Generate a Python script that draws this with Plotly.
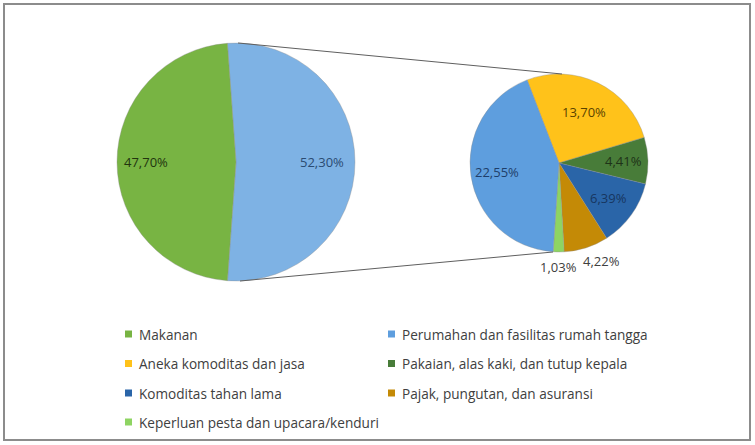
import math
import plotly.graph_objects as go

W, H = 755, 445

# ---- data ----
main_labels = ["Makanan", "Non Makanan"]
main_values = [47.70, 52.30]

sub_labels = [
    "Aneka komoditas dan jasa",
    "Pakaian, alas kaki, dan tutup kepala",
    "Komoditas tahan lama",
    "Pajak, pungutan, dan asuransi",
    "Keperluan pesta dan upacara/kenduri",
    "Perumahan dan fasilitas rumah tangga",
]
sub_values = [13.70, 4.41, 6.39, 4.22, 1.03, 22.55]

legend_labels = [
    "Makanan",
    "Perumahan dan fasilitas rumah tangga",
    "Aneka komoditas dan jasa",
    "Pakaian, alas kaki, dan tutup kepala",
    "Komoditas tahan lama",
    "Pajak, pungutan, dan asuransi",
    "Keperluan pesta dan upacara/kenduri",
]

# ---- styles ----
FONT = "Open Sans"
colors = {
    "Makanan": "#78B443",
    "Non Makanan": "#7EB2E4",
    "Perumahan dan fasilitas rumah tangga": "#5E9EDE",
    "Aneka komoditas dan jasa": "#FFC21A",
    "Pakaian, alas kaki, dan tutup kepala": "#487C39",
    "Komoditas tahan lama": "#2A65A8",
    "Pajak, pungutan, dan asuransi": "#C48A06",
    "Keperluan pesta dan upacara/kenduri": "#8ED462",
}
text_colors = {
    "Makanan": "#22340F",
    "Non Makanan": "#2B4B72",
    "Perumahan dan fasilitas rumah tangga": "#1E3E6A",
    "Aneka komoditas dan jasa": "#5A4300",
    "Pakaian, alas kaki, dan tutup kepala": "#1E3318",
    "Komoditas tahan lama": "#17365F",
    "Pajak, pungutan, dan asuransi": "#404040",
    "Keperluan pesta dan upacara/kenduri": "#404040",
}
# radial position of each value label (fraction of radius) and pixel nudge
label_radius = {
    "Makanan": 0.76,
    "Non Makanan": 0.72,
    "Perumahan dan fasilitas rumah tangga": 0.70,
    "Aneka komoditas dan jasa": 0.64,
    "Pakaian, alas kaki, dan tutup kepala": 0.73,
    "Komoditas tahan lama": 0.68,
    "Pajak, pungutan, dan asuransi": 1.16,
    "Keperluan pesta dan upacara/kenduri": 1.17,
}
label_xshift = {
    "Pajak, pungutan, dan asuransi": 11,
}


def pct(v):
    return f"{v:.2f}%".replace(".", ",")


def px_x(x):
    return x / W


def px_y(y):
    return 1 - y / H


# pie geometry (pixels)
LEFT = dict(cx=236, cy=162, r=119, rot=-4.15)
RIGHT = dict(cx=559, cy=163, r=89, rot=-21)

fig = go.Figure()
annotations = []
shapes = []


def add_pie(labels, values, geo):
    fig.add_trace(go.Pie(
        labels=labels,
        values=values,
        textinfo="none",
        marker=dict(colors=[colors[l] for l in labels],
                    line=dict(color="rgba(140,140,140,0.6)", width=0.6)),
        sort=False,
        direction="clockwise",
        rotation=geo["rot"],
        showlegend=False,
        hoverinfo="label+value",
        domain=dict(x=[px_x(geo["cx"] - geo["r"]), px_x(geo["cx"] + geo["r"])],
                    y=[px_y(geo["cy"] + geo["r"]), px_y(geo["cy"] - geo["r"])]),
    ))
    total = sum(values)
    cum = 0.0
    for lab, v in zip(labels, values):
        mid = geo["rot"] + (cum + v / 2) / total * 360
        cum += v
        t = math.radians(mid)
        rr = label_radius[lab] * geo["r"]
        x = geo["cx"] + rr * math.sin(t)
        y = geo["cy"] - rr * math.cos(t)
        annotations.append(dict(xref="paper", yref="paper",
                                x=px_x(x), y=px_y(y),
                                xanchor="center", yanchor="middle",
                                xshift=label_xshift.get(lab, 0),
                                text=pct(v), showarrow=False,
                                font=dict(family=FONT, size=13,
                                          color=text_colors[lab])))


# left (main) pie: "other" slice first, centred on the right side
left_order = [1, 0]
add_pie([main_labels[i] for i in left_order],
        [main_values[i] for i in left_order], LEFT)
# right (secondary) pie
add_pie(sub_labels, sub_values, RIGHT)

# connector lines between the two pies
shapes.append(dict(type="line", xref="paper", yref="paper",
                   x0=px_x(238), y0=px_y(43), x1=px_x(562), y1=px_y(74),
                   line=dict(color="#5F5F5F", width=1)))
shapes.append(dict(type="line", xref="paper", yref="paper",
                   x0=px_x(240), y0=px_y(281), x1=px_x(553), y1=px_y(252),
                   line=dict(color="#5F5F5F", width=1)))

# outer frame
shapes.append(dict(type="rect", xref="paper", yref="paper",
                   x0=px_x(4), y0=px_y(440), x1=px_x(750), y1=px_y(4),
                   line=dict(color="#8C8C8C", width=2)))

# manual two-column legend
col_x = [125, 388]
row_y = [334, 363.5, 393, 422]
for i, lab in enumerate(legend_labels):
    cx = col_x[i % 2]
    cy = row_y[i // 2]
    shapes.append(dict(type="rect", xref="paper", yref="paper",
                       x0=px_x(cx), x1=px_x(cx + 7),
                       y0=px_y(cy + 3.5), y1=px_y(cy - 3.5),
                       fillcolor=colors[lab], line=dict(width=0)))
    annotations.append(dict(xref="paper", yref="paper",
                            x=px_x(cx + 12), y=px_y(cy),
                            xanchor="left", yanchor="middle",
                            text=lab, showarrow=False,
                            font=dict(family=FONT, size=13.6, color="#404040")))

fig.update_layout(
    width=W, height=H,
    margin=dict(l=0, r=0, t=0, b=0),
    paper_bgcolor="white",
    plot_bgcolor="white",
    shapes=shapes,
    annotations=annotations,
    showlegend=False,
)

fig.write_html("out.html",
               config={"displayModeBar": False},
               post_script="document.body.style.margin='0';"
                           "document.body.style.overflow='hidden';")
